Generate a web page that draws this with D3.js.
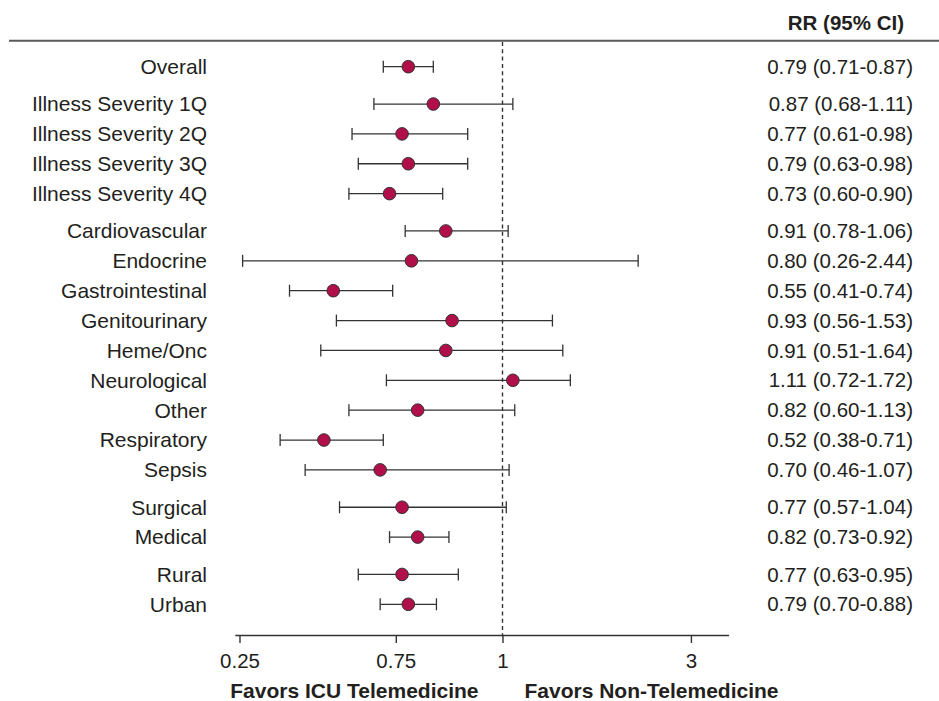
<!DOCTYPE html>
<html>
<head>
<meta charset="utf-8">
<script src="https://cdn.jsdelivr.net/npm/d3@7"></script>
<style>
  body { margin: 0; background: #fff; }
  svg text { font-family: "Liberation Sans", Arial, Helvetica, sans-serif; fill: #231f20; }
</style>
</head>
<body>
<div id="chart"></div>
<script>
// rows of the forest plot
const labels = ["Overall", "Illness Severity 1Q", "Illness Severity 2Q", "Illness Severity 3Q",
  "Illness Severity 4Q", "Cardiovascular", "Endocrine", "Gastrointestinal", "Genitourinary",
  "Heme/Onc", "Neurological", "Other", "Respiratory", "Sepsis", "Surgical", "Medical",
  "Rural", "Urban"];
const groups = [0, 1, 1, 1, 1, 2, 2, 2, 2, 2, 2, 2, 2, 2, 3, 3, 4, 4];
const rr    = [0.79, 0.87, 0.77, 0.79, 0.73, 0.91, 0.80, 0.55, 0.93, 0.91, 1.11, 0.82, 0.52, 0.70, 0.77, 0.82, 0.77, 0.79];
const lower = [0.71, 0.68, 0.61, 0.63, 0.60, 0.78, 0.26, 0.41, 0.56, 0.51, 0.72, 0.60, 0.38, 0.46, 0.57, 0.73, 0.63, 0.70];
const upper = [0.87, 1.11, 0.98, 0.98, 0.90, 1.06, 2.44, 0.74, 1.53, 1.64, 1.72, 1.13, 0.71, 1.07, 1.04, 0.92, 0.95, 0.88];
const tickValues = [0.25, 0.75, 1, 3];

const width = 939, height = 701;
const groupGap = 0.25;

let svg = d3.select("#chart").append("svg")
    .attr("width", width)
    .attr("height", height);

// the original axis is stretched below 1 and compressed above it
let x = d3.scaleLinear()
    .domain([0.235, 0.98, 1, 3.4])
    .range([234.8, 467.7, 502.5, 728.6]);

let slot = labels.map((d, i) => i + groups[i] * groupGap);
let y = d3.scaleLinear()
    .domain([0, d3.max(slot)])
    .range([66.7, 604.3]);

let axisY = 635;

// header
svg.append("text")
    .attr("x", 904).attr("y", 30)
    .attr("text-anchor", "end")
    .style("font-size", "20.5px").style("font-weight", "bold")
    .text("RR (95% CI)");

svg.append("line")
    .attr("x1", 9).attr("x2", width)
    .attr("y1", 40.7).attr("y2", 40.7)
    .attr("stroke", "#5a5a5a").attr("stroke-width", 2);

// reference line at 1
svg.append("line")
    .attr("x1", x(1)).attr("x2", x(1))
    .attr("y1", 42).attr("y2", axisY)
    .attr("stroke", "#333").attr("stroke-width", 1.4)
    .attr("stroke-dasharray", "4,3.3");

let rows = svg.selectAll(".row")
    .data(labels)
  .enter().append("g")
    .attr("class", "row")
    .attr("transform", (d, i) => "translate(0," + y(slot[i]) + ")");

rows.append("text")
    .attr("x", 207)
    .attr("dy", "0.35em")
    .attr("text-anchor", "end")
    .style("font-size", "21px")
    .text(d => d);

rows.append("text")
    .attr("x", 913)
    .attr("dy", "0.35em")
    .attr("text-anchor", "end")
    .style("font-size", "20.5px")
    .text((d, i) => rr[i].toFixed(2) + " (" + lower[i].toFixed(2) + "-" + upper[i].toFixed(2) + ")");

// confidence intervals
rows.append("line")
    .attr("x1", (d, i) => x(lower[i]))
    .attr("x2", (d, i) => x(upper[i]))
    .attr("stroke", "#333").attr("stroke-width", 1.3);

rows.append("line")
    .attr("x1", (d, i) => x(lower[i])).attr("x2", (d, i) => x(lower[i]))
    .attr("y1", -6).attr("y2", 6)
    .attr("stroke", "#333").attr("stroke-width", 1.3);

rows.append("line")
    .attr("x1", (d, i) => x(upper[i])).attr("x2", (d, i) => x(upper[i]))
    .attr("y1", -6).attr("y2", 6)
    .attr("stroke", "#333").attr("stroke-width", 1.3);

rows.append("circle")
    .attr("cx", (d, i) => x(rr[i]))
    .attr("r", 6.3)
    .attr("fill", "#b10f49")
    .attr("stroke", "#333").attr("stroke-width", 1);

// x axis
let xAxis = svg.append("g")
    .attr("transform", "translate(0," + axisY + ")")
    .call(d3.axisBottom(x)
      .tickValues(tickValues)
      .tickFormat(d => d)
      .tickSize(8)
      .tickSizeOuter(0)
      .tickPadding(10));

xAxis.selectAll("path, line").attr("stroke", "#333").attr("stroke-width", 1.4);
xAxis.selectAll("text")
    .style("font-size", "20.5px")
    .style("font-family", "'Liberation Sans', Arial, sans-serif")
    .attr("fill", "#231f20");

svg.append("text")
    .attr("x", x(1) - 24).attr("y", 698)
    .attr("text-anchor", "end")
    .style("font-size", "21px").style("font-weight", "bold")
    .text("Favors ICU Telemedicine");

svg.append("text")
    .attr("x", x(1) + 22).attr("y", 698)
    .style("font-size", "21px").style("font-weight", "bold")
    .text("Favors Non-Telemedicine");
</script>
</body>
</html>
